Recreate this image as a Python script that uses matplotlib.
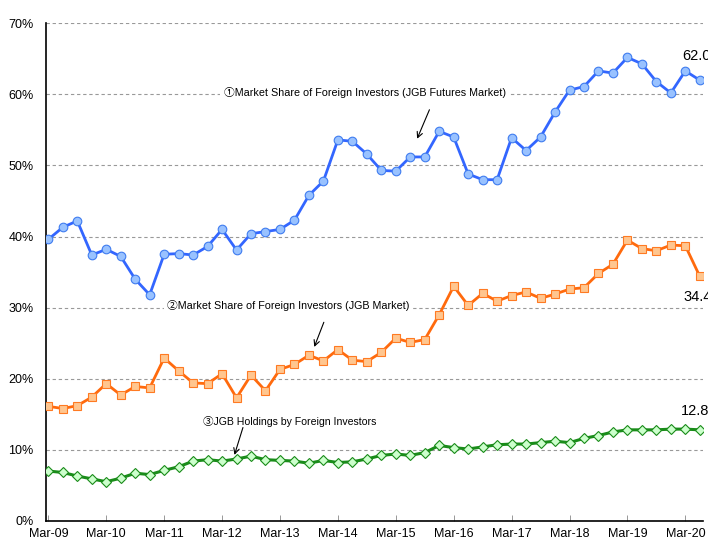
import matplotlib.pyplot as plt
import numpy as np

# quarterly, Mar-09 .. Jun-20
futures_share = [39.6, 41.3, 42.2, 37.4, 38.2, 37.2, 34.0, 31.8, 37.5, 37.6,
                 37.4, 38.6, 41.0, 38.1, 40.4, 40.7, 41.0, 42.3, 45.8, 47.8,
                 53.6, 53.4, 51.6, 49.3, 49.2, 51.2, 51.2, 54.8, 54.0, 48.8,
                 48.0, 48.0, 53.9, 52.1, 54.0, 57.5, 60.6, 61.1, 63.3, 63.0,
                 65.2, 64.3, 61.8, 60.2, 63.3, 62.0]
jgb_share = [16.1, 15.8, 16.2, 17.4, 19.3, 17.7, 18.9, 18.7, 22.9, 21.1,
             19.4, 19.3, 20.7, 17.3, 20.5, 18.3, 21.3, 22.0, 23.3, 22.5,
             24.1, 22.6, 22.4, 23.7, 25.7, 25.1, 25.5, 29.0, 33.0, 30.3,
             32.0, 30.9, 31.7, 32.2, 31.3, 31.9, 32.6, 32.8, 34.8, 36.1,
             39.5, 38.3, 38.0, 38.8, 38.7, 34.4]
holdings = [7.0, 6.8, 6.3, 5.9, 5.5, 6.0, 6.7, 6.5, 7.1, 7.6,
            8.4, 8.6, 8.4, 8.7, 9.1, 8.6, 8.5, 8.4, 8.1, 8.5,
            8.2, 8.3, 8.7, 9.2, 9.4, 9.2, 9.6, 10.6, 10.3, 10.1,
            10.4, 10.7, 10.8, 10.8, 11.0, 11.2, 11.0, 11.6, 12.0, 12.5,
            12.8, 12.8, 12.8, 12.9, 12.9, 12.8]
year_labels = ["Mar-09", "Mar-10", "Mar-11", "Mar-12", "Mar-13", "Mar-14",
               "Mar-15", "Mar-16", "Mar-17", "Mar-18", "Mar-19", "Mar-20"]
y_ticks = [0, 10, 20, 30, 40, 50, 60, 70]

plt.rcParams["font.family"] = ["Liberation Sans", "DejaVu Sans"]
label_font = ["Liberation Sans", "Noto Sans CJK JP", "DejaVu Sans"]

x = np.arange(len(futures_share))

fig = plt.figure(figsize=(7.08, 5.45), dpi=100)
ax = fig.add_axes([0.0654, 0.0444, 0.9271, 0.9128])

ax.plot(x, futures_share, color="#3366ff", lw=2, marker="o", ms=6.2,
        mfc="#99c2ff", mec="#3f7cf0", mew=0.8, zorder=4)
ax.plot(x, jgb_share, color="#ff6a0d", lw=2, marker="s", ms=6.0,
        mfc="#ffc68f", mec="#ff7a22", mew=0.8, zorder=4)
ax.plot(x, holdings, color="#1a8c1a", lw=2.2, marker="D", ms=5.6,
        mfc="#ccffcc", mec="#1a8c1a", mew=0.8, zorder=4)

ax.set_xlim(-0.14, 45.2)
ax.set_ylim(0, 70)
ax.set_yticks(y_ticks)
ax.set_yticklabels([f"{v}%" for v in y_ticks], fontsize=9)
ax.set_xticks(x[::4])
ax.set_xticklabels(year_labels, fontsize=9)
ax.tick_params(axis="y", length=0, pad=9)
ax.tick_params(axis="x", direction="in", length=4, width=0.6, color="#888888", pad=5)

ax.grid(axis="y", ls=(0, (3, 2.5)), color="#999999", lw=0.8)
ax.set_axisbelow(True)
for s in ["top", "right"]:
    ax.spines[s].set_visible(False)
ax.spines["left"].set_linewidth(1.2)
ax.spines["bottom"].set_linewidth(1.2)

# series notes with arrows; each note is sized to the width it has in the original
box = dict(facecolor="white", edgecolor="none", pad=3)
notes = [
    (12.1, 60.3, "①Market Share of Foreign Investors (JGB Futures Market)", 281),
    (8.2, 30.3, "②Market Share of Foreign Investors (JGB Market)", 240),
    (10.7, 14.0, "③JGB Holdings by Foreign Investors", 174),
]
renderer = fig.canvas.get_renderer()
for nx, ny, txt, target_w in notes:
    t = ax.text(nx, ny, txt, fontsize=9.5, family=label_font, va="center",
                ha="left", bbox=box, zorder=3)
    w = t.get_window_extent(renderer).width
    t.set_fontsize(min(10.5, 9.5 * target_w / w))

arrow = dict(arrowstyle="->", color="black", lw=0.8)
ax.annotate("", xy=(25.4, 53.4), xytext=(26.4, 58.2), arrowprops=arrow)
ax.annotate("", xy=(18.3, 24.1), xytext=(19.1, 28.3), arrowprops=arrow)
ax.annotate("", xy=(12.8, 8.9), xytext=(13.5, 13.5), arrowprops=arrow)

# end labels (run off the right edge as in the original)
ax.text(x[-1] - 1.2, futures_share[-1] + 3.4, f"{futures_share[-1]:.1f}%",
        fontsize=10.5, ha="left", va="center", clip_on=False)
ax.text(x[-1] - 1.1, jgb_share[-1] - 2.9, f"{jgb_share[-1]:.1f}%",
        fontsize=10.5, ha="left", va="center", clip_on=False)
ax.text(x[-1] - 1.3, holdings[-1] + 2.6, f"{holdings[-1]:.1f}%",
        fontsize=10.5, ha="left", va="center", clip_on=False)

fig.savefig("out.png", dpi=100)
